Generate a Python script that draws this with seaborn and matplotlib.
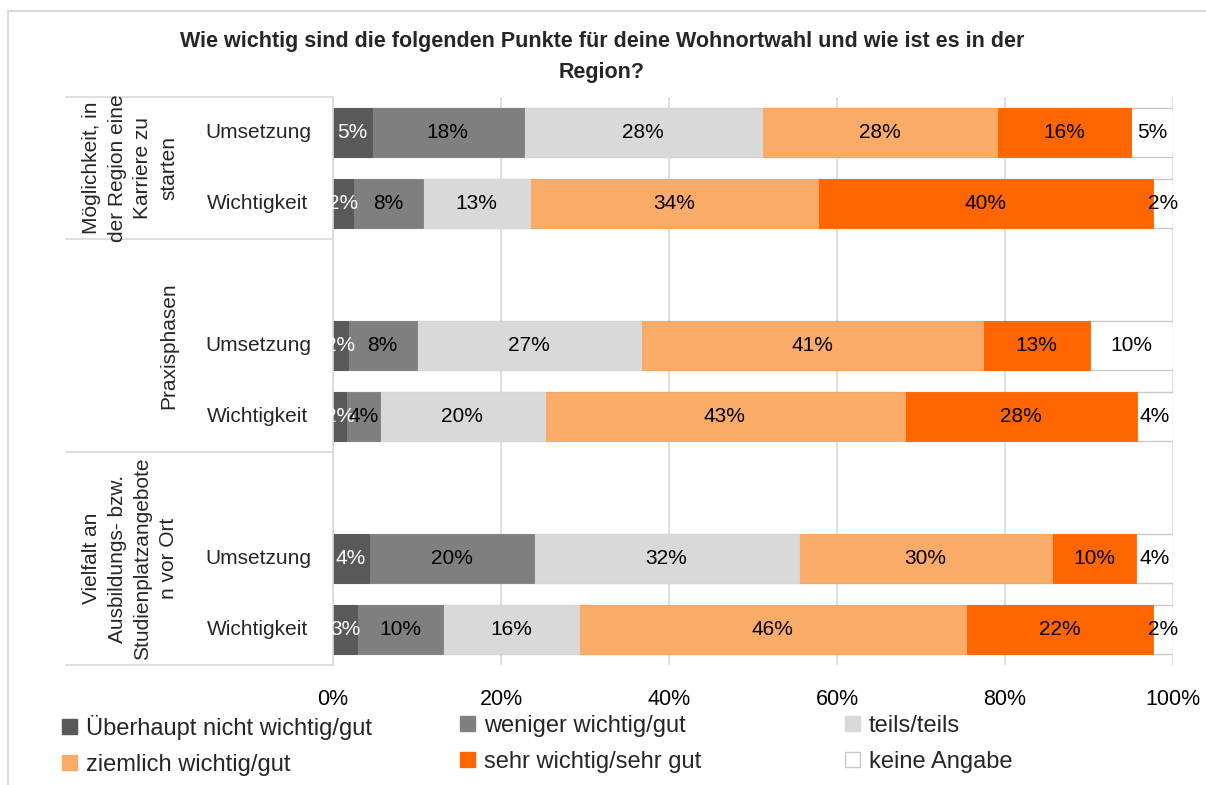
import numpy as np
import pandas as pd
import matplotlib
matplotlib.use("Agg")
import matplotlib.pyplot as plt
import matplotlib.transforms as mtransforms
from matplotlib.patches import Patch
import seaborn as sns

# answer categories + colours (Excel-like palette)
answers = ["Überhaupt nicht wichtig/gut", "weniger wichtig/gut", "teils/teils",
           "ziemlich wichtig/gut", "sehr wichtig/sehr gut", "keine Angabe"]
colors = ["#595959", "#7f7f7f", "#d9d9d9", "#fbab68", "#ff6600", "#ffffff"]

groups = ["Möglichkeit, in\nder Region eine\nKarriere zu\nstarten",
          "Praxisphasen",
          "Vielfalt an\nAusbildungs- bzw.\nStudienplatzangebote\nn vor Ort"]
rows = ["Umsetzung", "Wichtigkeit"]

# shares in percent
karriere_umsetzung = [4.6, 18.1, 28.4, 28.0, 15.9, 5.0]
karriere_wichtigkeit = [2.4, 8.3, 12.8, 34.2, 39.9, 2.4]
praxis_umsetzung = [1.8, 8.2, 26.7, 40.7, 12.7, 9.9]
praxis_wichtigkeit = [1.6, 4.0, 19.6, 42.9, 27.6, 4.3]
vielfalt_umsetzung = [4.3, 19.6, 31.6, 30.1, 10.0, 4.4]
vielfalt_wichtigkeit = [2.9, 10.2, 16.2, 46.1, 22.2, 2.4]

xticks = [0, 20, 40, 60, 80, 100]

# slot order on the category axis (Excel leaves an empty row above group 2 and 3)
order = ["K_U", "K_W", "gap1", "P_U", "P_W", "gap2", "V_U", "V_W"]
bars = {"K_U": karriere_umsetzung, "K_W": karriere_wichtigkeit,
        "P_U": praxis_umsetzung, "P_W": praxis_wichtigkeit,
        "V_U": vielfalt_umsetzung, "V_W": vielfalt_wichtigkeit}
row_of = {"K_U": rows[0], "K_W": rows[1], "P_U": rows[0], "P_W": rows[1],
          "V_U": rows[0], "V_W": rows[1]}

recs = []
for slot, vals in bars.items():
    cum = np.cumsum(vals)
    for j, v in enumerate(vals):
        recs.append({"slot": slot, "seg": j, "value": v, "cum": cum[j]})
df = pd.DataFrame(recs)

sns.set_theme(style="whitegrid")
plt.rcParams['font.family'] = ['Liberation Sans', 'DejaVu Sans']

fig = plt.figure(figsize=(12.06, 7.85), dpi=100)
ax = fig.add_axes([333 / 1206, 120 / 785, 840 / 1206, 568 / 785])

# stacked bars: draw cumulative layers from the longest to the shortest
for j in reversed(range(len(answers))):
    sub = df[df["seg"] == j]
    if j == len(answers) - 1:
        ec, lw = "#c8c8c8", 1.0
    else:
        ec, lw = colors[j], 0.6
    sns.barplot(data=sub, x="cum", y="slot", order=order, orient="h",
                color=colors[j], saturation=1, width=0.68, errorbar=None,
                edgecolor=ec, linewidth=lw, ax=ax)

# data labels
for _, r in df.iterrows():
    yi = order.index(r["slot"])
    ax.text(r["cum"] - r["value"] / 2, yi, f"{r['value']:.0f}%",
            ha="center", va="center", fontsize=15,
            color="white" if r["seg"] == 0 else "black")

ax.set_xlim(0, 100)
ax.set_ylim(len(order) - 0.5, -0.5)
ax.set_xticks(xticks)
ax.set_xticklabels([f"{t}%" for t in xticks], fontsize=15.5)
ax.set_yticks([])
ax.set_xlabel("")
ax.set_ylabel("")
ax.grid(axis="x", color="#d9d9d9", linewidth=1.2)
ax.grid(axis="y", visible=False)
ax.tick_params(axis="x", length=0, pad=17, colors="black")
for s in ["top", "right", "bottom"]:
    ax.spines[s].set_visible(False)
ax.spines["left"].set_color("#d9d9d9")
ax.spines["left"].set_linewidth(1.2)

# multi level category labels
trans = mtransforms.blended_transform_factory(ax.transAxes, ax.transData)
for slot in bars:
    ax.text(-0.0893, order.index(slot), row_of[slot], transform=trans,
            ha="center", va="center", fontsize=15)
bounds = [-0.5, 1.5, 4.5, 7.5]
for b in bounds:
    ax.plot([-0.318, 0], [b, b], transform=trans, color="#d9d9d9",
            linewidth=1.2, clip_on=False)
for k, g in enumerate(groups):
    ax.text(-0.1845, (bounds[k] + bounds[k + 1]) / 2, g,
            transform=trans, rotation=90, ha="right", va="center",
            multialignment="center", fontsize=15, linespacing=1.45)

# title
fig.text(0.4992, 1 - 57 / 785,
         "Wie wichtig sind die folgenden Punkte für deine Wohnortwahl und wie ist es in der\nRegion?",
         ha="center", va="center", fontsize=15.5, fontweight="bold", linespacing=1.6)

# legend: three columns, each its own legend
handles = [Patch(facecolor=c, edgecolor=("#c8c8c8" if c == "#ffffff" else c))
           for c in colors]
col_x = [62, 460, 845]
for k in range(3):
    idx = [k, k + 3]
    fig.legend([handles[i] for i in idx], [answers[i] for i in idx],
               loc="upper left", bbox_to_anchor=(col_x[k] / 1206, 1 - 715 / 785),
               frameon=False, handlelength=0.62, handleheight=0.62,
               handletextpad=0.4, labelspacing=0.58, borderpad=0, borderaxespad=0,
               prop={"size": 17})

# chart frame
fig.add_artist(plt.Line2D([8 / 1206, 8 / 1206], [0, 1 - 11 / 785], color="#d9d9d9",
                          linewidth=1.5, transform=fig.transFigure))
fig.add_artist(plt.Line2D([8 / 1206, 1], [1 - 11 / 785, 1 - 11 / 785], color="#d9d9d9",
                          linewidth=1.5, transform=fig.transFigure))

fig.savefig("out.png", dpi=100, facecolor="white")
